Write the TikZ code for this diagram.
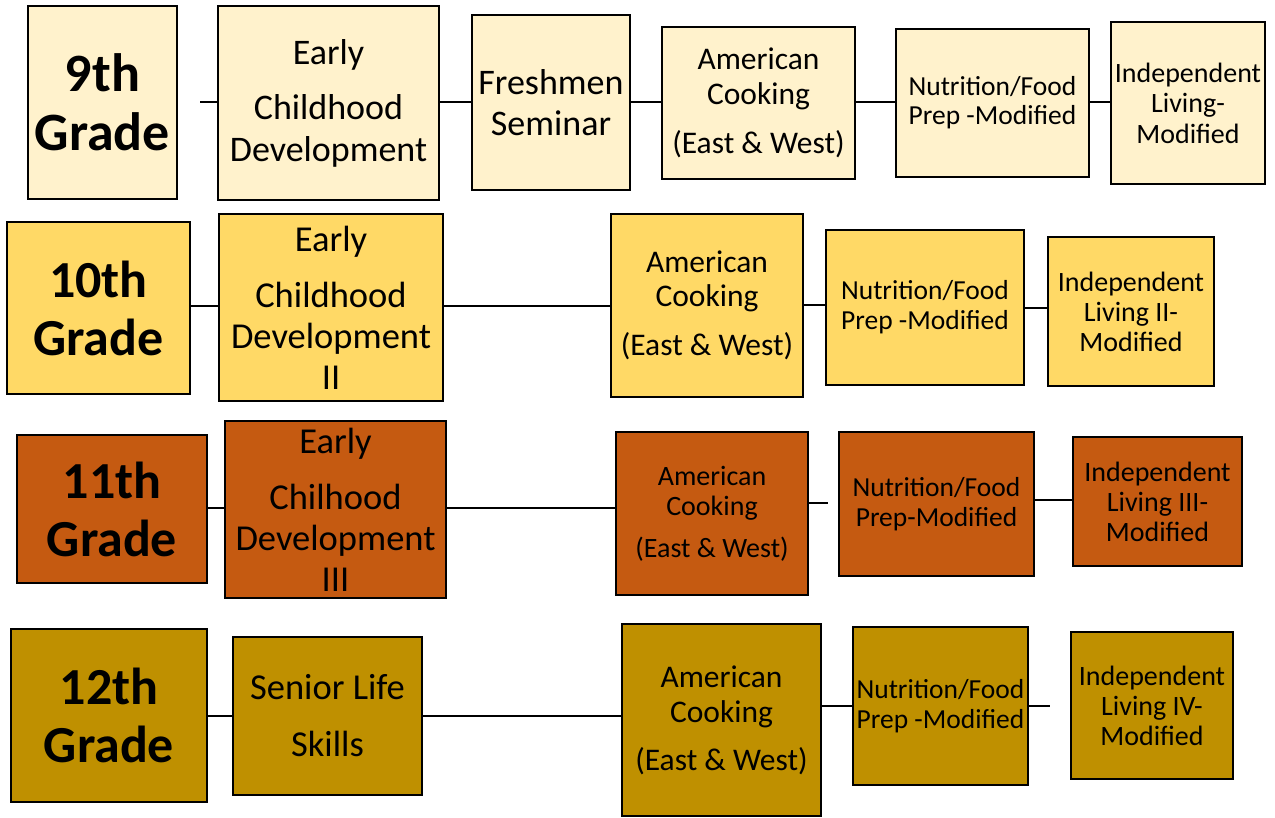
\documentclass[tikz,border=0pt]{standalone}
\usepackage{fontspec}
\setmainfont{Carlito}
\definecolor{rowa}{HTML}{FFF2CC}
\definecolor{rowb}{HTML}{FFD966}
\definecolor{rowc}{HTML}{C55A11}
\definecolor{rowd}{HTML}{BF9000}
\tikzset{
  box/.style={draw=black, line width=2pt, inner sep=0pt, align=center, text=black},
  link/.style={draw=black, line width=2pt},
}
\newcommand{\fs}[2]{\fontsize{#1}{#2}\selectfont}
\begin{document}
\begin{tikzpicture}[x=1pt,y=-1pt]
\useasboundingbox (0,0) rectangle (1275,818);
% ---------- Row 1 ----------
\node[box, fill=rowa, minimum width=149pt, minimum height=193pt, font={\fs{54}{59}\bfseries}] (g9) at (102.5,102.5) {9th\\Grade};
\node[box, fill=rowa, minimum width=221pt, minimum height=194pt, font={\fs{36}{42}}] (e9) at (328.5,103) {Early\\[13pt]Childhood\\Development};
\node[box, fill=rowa, minimum width=158pt, minimum height=175pt, font={\fs{36}{41}}] (f9) at (551,102.5) {Freshmen\\Seminar};
\node[box, fill=rowa, minimum width=193pt, minimum height=152pt, font={\fs{31.5}{35}}] (a9) at (758.5,103) {American\\Cooking\\[14pt](East \& West)};
\node[box, fill=rowa, minimum width=193pt, minimum height=148pt, font={\fs{27.5}{29}}] (n9) at (992.5,103) {Nutrition/Food\\Prep -Modified};
\node[box, fill=rowa, minimum width=154pt, minimum height=162pt, font={\fs{28}{30.5}}] (i9) at (1188,103) {Independent\\Living-\\Modified};
\coordinate (s9) at (200,102);
\draw[link] (s9) -- (s9 -| e9.west);
\draw[link] (e9.east |- s9) -- (f9.west |- s9);
\draw[link] (f9.east |- s9) -- (a9.west |- s9);
\draw[link] (a9.east |- s9) -- (n9.west |- s9);
\draw[link] (n9.east |- s9) -- (i9.west |- s9);
% ---------- Row 2 ----------
\node[box, fill=rowb, minimum width=183pt, minimum height=172pt, font={\fs{52}{58}\bfseries}] (g10) at (98.5,308) {10th\\Grade};
\node[box, fill=rowb, minimum width=224pt, minimum height=187pt, font={\fs{36.5}{41}}] (e10) at (331,307.5) {Early\\[15pt]Childhood\\Development\\II};
\node[box, fill=rowb, minimum width=192pt, minimum height=183pt, font={\fs{31.5}{34}}] (a10) at (707,305.5) {American\\Cooking\\[15pt](East \& West)};
\node[box, fill=rowb, minimum width=198pt, minimum height=155pt, font={\fs{27.5}{30}}] (n10) at (925,307.5) {Nutrition/Food\\Prep -Modified};
\node[box, fill=rowb, minimum width=166pt, minimum height=149pt, font={\fs{28}{30}}] (i10) at (1131,311.5) {Independent\\Living II-\\Modified};
\coordinate (r10) at (0,306);
\coordinate (q10) at (0,308);
\draw[link] (g10.east |- r10) -- (e10.west |- r10);
\draw[link] (e10.east |- r10) -- (a10.west |- r10);
\draw[link] (a10.east |- 0,305) -- (n10.west |- 0,305);
\draw[link] (n10.east |- q10) -- (i10.west |- q10);
% ---------- Row 3 ----------
\node[box, fill=rowc, minimum width=190pt, minimum height=148pt, font={\fs{52}{58}\bfseries}] (g11) at (112,509) {11th\\Grade};
\node[box, fill=rowc, minimum width=221pt, minimum height=177pt, font={\fs{36.5}{41}}] (e11) at (335.5,509.5) {Early\\[15pt]Chilhood\\Development\\III};
\node[box, fill=rowc, minimum width=192pt, minimum height=163pt, font={\fs{28}{30}}] (a11) at (712,513.5) {American\\Cooking\\[12pt](East \& West)};
\node[box, fill=rowc, minimum width=195pt, minimum height=144pt, font={\fs{27.5}{30}}] (n11) at (936.5,504) {Nutrition/Food\\Prep-Modified};
\node[box, fill=rowc, minimum width=169pt, minimum height=129pt, font={\fs{28}{30}}] (i11) at (1157.5,501.5) {Independent\\Living III-\\Modified};
\coordinate (r11) at (0,508);
\coordinate (t11) at (828,503);
\coordinate (q11) at (0,500);
\draw[link] (g11.east |- r11) -- (e11.west |- r11);
\draw[link] (e11.east |- r11) -- (a11.west |- r11);
\draw[link] (a11.east |- t11) -- (t11);
\draw[link] (n11.east |- q11) -- (i11.west |- q11);
% ---------- Row 4 ----------
\node[box, fill=rowd, minimum width=196pt, minimum height=173pt, font={\fs{52}{58}\bfseries}] (g12) at (109,715.5) {12th\\Grade};
\node[box, fill=rowd, minimum width=189pt, minimum height=158pt, font={\fs{36.5}{57}}] (s12) at (327.5,716) {Senior Life\\Skills};
\node[box, fill=rowd, minimum width=199pt, minimum height=192pt, font={\fs{31.5}{35}}] (a12) at (721.5,720) {American\\Cooking\\[13pt](East \& West)};
\node[box, fill=rowd, minimum width=175pt, minimum height=158pt, font={\fs{27.5}{30}}] (n12) at (940.5,706) {Nutrition/Food\\Prep -Modified};
\node[box, fill=rowd, minimum width=162pt, minimum height=147pt, font={\fs{28}{30}}] (i12) at (1152,705.5) {Independent\\Living IV-\\Modified};
\coordinate (r12) at (0,716);
\coordinate (q12) at (0,706);
\coordinate (t12) at (1050,706);
\draw[link] (g12.east |- r12) -- (s12.west |- r12);
\draw[link] (s12.east |- r12) -- (a12.west |- r12);
\draw[link] (a12.east |- q12) -- (n12.west |- q12);
\draw[link] (n12.east |- t12) -- (t12);
\end{tikzpicture}
\end{document}
